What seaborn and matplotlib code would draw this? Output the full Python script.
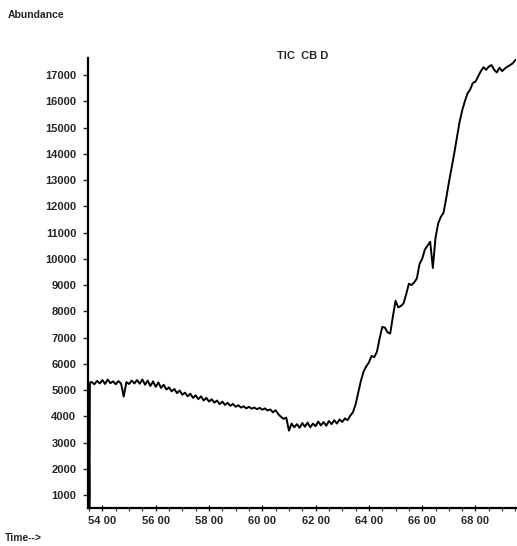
import numpy as np
import pandas as pd
import matplotlib
matplotlib.use("Agg")
import matplotlib.pyplot as plt
import seaborn as sns
from matplotlib.ticker import MultipleLocator

# ---- data ----
start_times = [53.46, 53.47, 53.48, 53.49, 53.50, 53.51, 53.52, 53.53, 53.55]
start_values = [2600, 700, 3500, 600, 2200, 520, 1000, 5200, 5300]

grid_start = 53.6
grid_step = 0.1
tic_values = [
    5300, 5220, 5350, 5250, 5380, 5230, 5400, 5260, 5330, 5220,   # 53.6-54.5
    5340, 5250, 4750, 5300, 5230, 5360, 5250, 5380, 5240, 5400,   # 54.6-55.5
    5200, 5360, 5150, 5330, 5120, 5290, 5080, 5200, 5020, 5100,   # 55.6-56.5
    4950, 5040, 4880, 4980, 4820, 4900, 4760, 4860, 4700, 4800,   # 56.6-57.5
    4650, 4760, 4600, 4700, 4560, 4650, 4520, 4600, 4460, 4560,   # 57.6-58.5
    4430, 4510, 4400, 4470, 4360, 4420, 4330, 4380, 4300, 4360,   # 58.6-59.5
    4290, 4330, 4270, 4320, 4250, 4300, 4220, 4260, 4150, 4230,   # 59.6-60.5
    4080, 3980, 3900, 3950, 3450, 3720, 3580, 3700, 3560, 3740,   # 60.6-61.5
    3600, 3760, 3580, 3720, 3620, 3800, 3650, 3780, 3640, 3820,   # 61.6-62.5
    3700, 3850, 3720, 3880, 3780, 3920, 3850, 4020, 4150, 4450,   # 62.6-63.5
    4900, 5350, 5700, 5900, 6050, 6300, 6250, 6450, 6950, 7400,   # 63.6-64.5
    7380, 7200, 7150, 7800, 8400, 8150, 8200, 8300, 8650, 9050,   # 64.6-65.5
    9000, 9100, 9250, 9800, 10000, 10350, 10500, 10650, 9650, 10800,   # 65.6-66.5
    11350, 11600, 11750, 12300, 12900, 13450, 14000, 14600, 15200, 15650,  # 66.6-67.5
    16000, 16300, 16450, 16700, 16750, 16950, 17150, 17300, 17200, 17320,  # 67.6-68.5
    17380, 17200, 17100, 17280, 17150, 17250, 17320, 17380, 17450, 17580,  # 68.6-69.5
]

y_ticks = list(range(1000, 18000, 1000))
x_ticks = [54, 56, 58, 60, 62, 64, 66, 68]
x_tick_labels = ["54 00", "56 00", "58 00", "60 00", "62 00", "64 00", "66 00", "68 00"]
title = "TIC  CB D"

# ---- build table ----
grid_times = list(np.round(grid_start + grid_step * np.arange(len(tic_values)), 2))
df = pd.DataFrame({
    "time": start_times + grid_times,
    "abundance": start_values + tic_values,
})

sns.set_style("ticks")
plt.rcParams["font.family"] = ["Liberation Sans", "DejaVu Sans"]

W, H = 517, 546
fig = plt.figure(figsize=(W / 100, H / 100), dpi=100)
ax = fig.add_axes([88 / W, (H - 508) / H, 428 / W, 450 / H])

sns.lineplot(data=df, x="time", y="abundance", ax=ax, color="black",
             linewidth=1.4, sort=False, estimator=None)

ax.set_xlim(53.46, 69.52)
ax.set_ylim(505, 17650)
ax.set_yticks(y_ticks)
ax.set_yticklabels([str(v) for v in y_ticks], fontsize=8, fontweight="bold")
ax.set_xticks(x_ticks)
ax.set_xticklabels(x_tick_labels, fontsize=8, fontweight="bold")
ax.xaxis.set_minor_locator(MultipleLocator(0.5))
ax.tick_params(axis="y", direction="out", length=3.5, width=1, pad=5)
ax.tick_params(axis="x", which="major", direction="inout", length=5, width=1, pad=3)
ax.tick_params(axis="x", which="minor", direction="out", length=2.5, width=0.8)
ax.set_xlabel("")
ax.set_ylabel("")

for s in ["top", "right"]:
    ax.spines[s].set_visible(False)
for s in ["left", "bottom"]:
    ax.spines[s].set_linewidth(1.6)
    ax.spines[s].set_color("black")

fig.text(303 / W, 1 - 56 / H, title, ha="center", va="center",
         fontsize=8, fontweight="bold")
fig.text(8 / W, 1 - 15 / H, "Abundance", ha="left", va="center",
         fontsize=7.5, fontweight="bold")
fig.text(5 / W, 1 - 538 / H, "Time-->", ha="left", va="center",
         fontsize=7.5, fontweight="bold")

fig.savefig("out.png", dpi=100, facecolor="white")
